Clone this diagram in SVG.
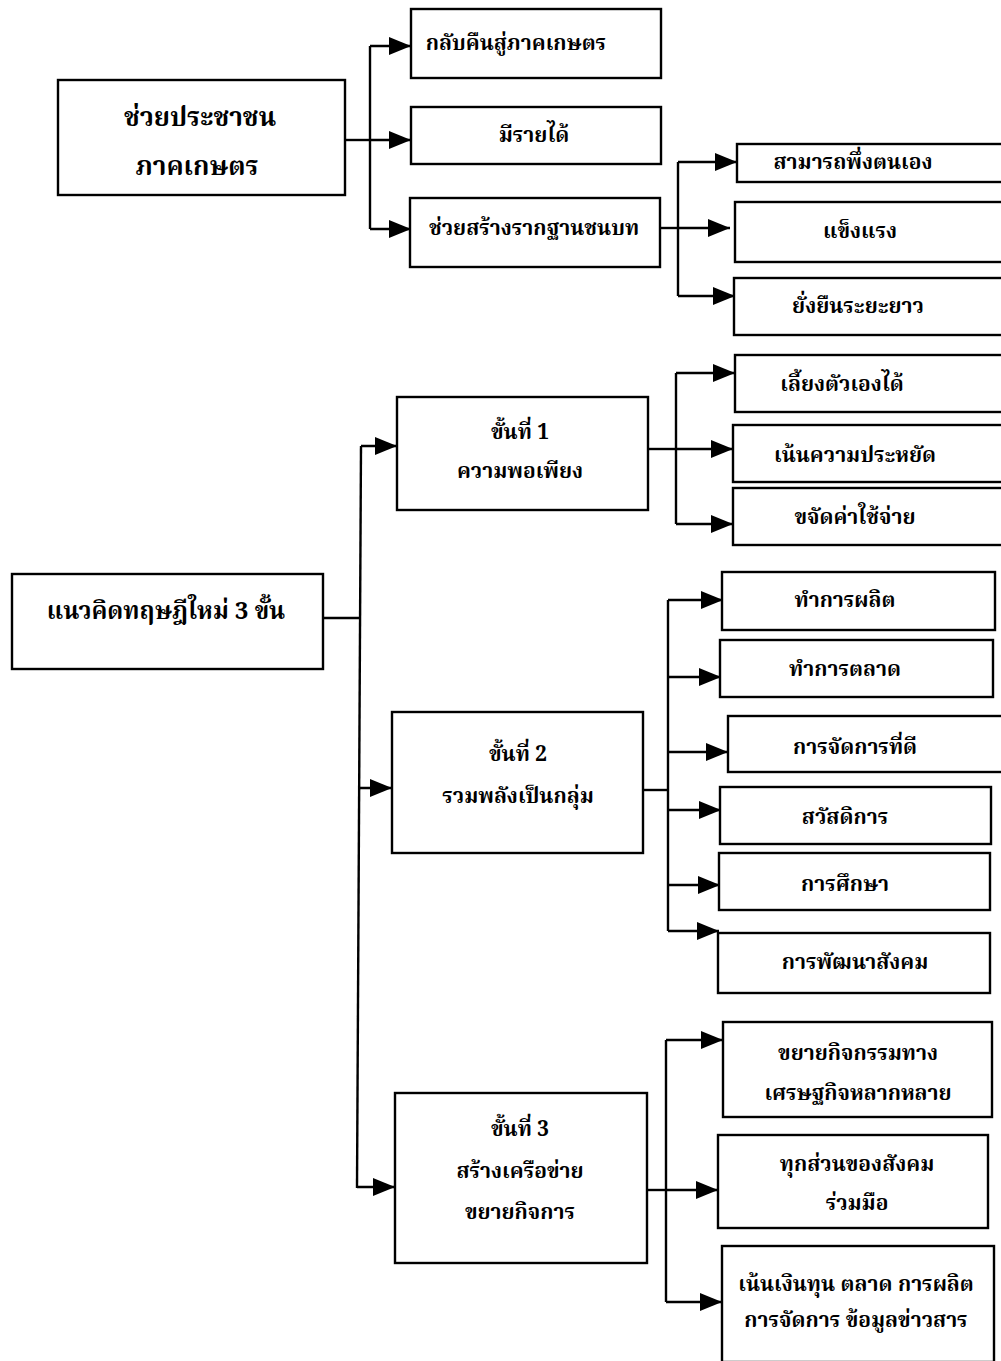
<svg xmlns="http://www.w3.org/2000/svg" width="1001" height="1361" viewBox="0 0 1001 1361">
<style>
.box{fill:#fff;stroke:#000;stroke-width:2.4}
.t{font-family:"Noto Serif Thai","Noto Sans Thai Looped","Noto Sans Thai","Garuda","Loma","Norasi","Liberation Serif",serif;font-size:21px;font-weight:bold;text-anchor:middle;dominant-baseline:central;fill:#000}
.big{font-size:26px}
.mid{font-size:24px}
.c{stroke:#000;stroke-width:2.4;fill:none}
.a{stroke:#000;stroke-width:2.4;fill:none;marker-end:url(#arr)}
</style>
<defs>
<marker id="arr" markerUnits="userSpaceOnUse" markerWidth="24" markerHeight="20" refX="22" refY="9" orient="auto">
<path d="M0,0 L22,9 L0,18 z" fill="#000"/>
</marker>
</defs>
<rect width="1001" height="1361" fill="#fff"/>

<g id="connectors">
<line class="c" x1="345" y1="140" x2="370" y2="140"/>
<line class="c" x1="370" y1="46" x2="370" y2="229"/>
<line class="a" x1="370" y1="46" x2="411" y2="46"/>
<line class="a" x1="370" y1="140" x2="411" y2="140"/>
<line class="a" x1="370" y1="229" x2="411" y2="229"/>
<line class="c" x1="660" y1="228" x2="678" y2="228"/>
<line class="c" x1="678" y1="162" x2="678" y2="296"/>
<line class="a" x1="678" y1="162" x2="737" y2="162"/>
<line class="a" x1="678" y1="228" x2="730" y2="228"/>
<line class="a" x1="678" y1="296" x2="735" y2="296"/>
<line class="c" x1="323" y1="618" x2="360" y2="618"/>
<line class="c" x1="361" y1="446" x2="357" y2="1188"/>
<line class="a" x1="361" y1="446" x2="397" y2="446"/>
<line class="a" x1="359" y1="788" x2="392" y2="788"/>
<line class="a" x1="357" y1="1187" x2="395" y2="1187"/>
<line class="c" x1="648" y1="449" x2="676" y2="449"/>
<line class="c" x1="676" y1="373" x2="676" y2="524"/>
<line class="a" x1="676" y1="373" x2="735" y2="373"/>
<line class="a" x1="676" y1="449" x2="733" y2="449"/>
<line class="a" x1="676" y1="524" x2="733" y2="524"/>
<line class="c" x1="643" y1="790" x2="668" y2="790"/>
<line class="c" x1="668" y1="600" x2="668" y2="931"/>
<line class="a" x1="668" y1="600" x2="723" y2="600"/>
<line class="a" x1="668" y1="677" x2="721" y2="677"/>
<line class="a" x1="668" y1="752" x2="728" y2="752"/>
<line class="a" x1="668" y1="810" x2="721" y2="810"/>
<line class="a" x1="668" y1="885" x2="720" y2="885"/>
<line class="a" x1="668" y1="931" x2="719" y2="931"/>
<line class="c" x1="647" y1="1190" x2="666" y2="1190"/>
<line class="c" x1="666" y1="1040" x2="666" y2="1302"/>
<line class="a" x1="666" y1="1040" x2="723" y2="1040"/>
<line class="a" x1="666" y1="1190" x2="718" y2="1190"/>
<line class="a" x1="666" y1="1302" x2="722" y2="1302"/>
</g>

<g id="n-farmers"><rect class="box" x="58" y="80" width="287" height="115"/>
<text class="t big" x="200" y="119">ช่วยประชาชน</text><text class="t big" x="197" y="168">ภาคเกษตร</text></g>
<g id="n-return"><rect class="box" x="411" y="9" width="250" height="69"/>
<text class="t" x="516" y="44">กลับคืนสู่ภาคเกษตร</text></g>
<g id="n-income"><rect class="box" x="411" y="107" width="250" height="57"/>
<text class="t" x="534" y="136">มีรายได้</text></g>
<g id="n-rural"><rect class="box" x="410" y="198" width="250" height="69"/>
<text class="t" x="534" y="229">ช่วยสร้างรากฐานชนบท</text></g>
<g id="n-self"><rect class="box" x="737" y="144" width="275" height="38"/>
<text class="t" x="853" y="163">สามารถพึ่งตนเอง</text></g>
<g id="n-strong"><rect class="box" x="735" y="202" width="277" height="60"/>
<text class="t" x="860" y="232">แข็งแรง</text></g>
<g id="n-sustain"><rect class="box" x="734" y="278" width="278" height="57"/>
<text class="t" x="858" y="307">ยั่งยืนระยะยาว</text></g>

<g id="n-main"><rect class="box" x="12" y="574" width="311" height="95"/>
<text class="t mid" x="166" y="612">แนวคิดทฤษฎีใหม่ 3 ขั้น</text></g>

<g id="n-stage1"><rect class="box" x="397" y="397" width="251" height="113"/>
<text class="t" x="520" y="433">ขั้นที่ 1</text><text class="t" x="520" y="472">ความพอเพียง</text></g>
<g id="n-feed"><rect class="box" x="735" y="355" width="277" height="57"/>
<text class="t" x="842" y="385">เลี้ยงตัวเองได้</text></g>
<g id="n-save"><rect class="box" x="733" y="425" width="279" height="57"/>
<text class="t" x="855" y="456">เน้นความประหยัด</text></g>
<g id="n-cost"><rect class="box" x="733" y="488" width="279" height="57"/>
<text class="t" x="855" y="518">ขจัดค่าใช้จ่าย</text></g>

<g id="n-stage2"><rect class="box" x="392" y="712" width="251" height="141"/>
<text class="t" x="518" y="755">ขั้นที่ 2</text><text class="t" x="518" y="797">รวมพลังเป็นกลุ่ม</text></g>
<g id="n-produce"><rect class="box" x="722" y="572" width="273" height="58"/>
<text class="t" x="845" y="601">ทำการผลิต</text></g>
<g id="n-market"><rect class="box" x="720" y="640" width="273" height="57"/>
<text class="t" x="845" y="670">ทำการตลาด</text></g>
<g id="n-manage"><rect class="box" x="728" y="716" width="275" height="56"/>
<text class="t" x="855" y="748">การจัดการที่ดี</text></g>
<g id="n-welfare"><rect class="box" x="720" y="787" width="271" height="57"/>
<text class="t" x="845" y="818">สวัสดิการ</text></g>
<g id="n-edu"><rect class="box" x="719" y="853" width="271" height="57"/>
<text class="t" x="845" y="885">การศึกษา</text></g>
<g id="n-social"><rect class="box" x="718" y="933" width="272" height="60"/>
<text class="t" x="855" y="963">การพัฒนาสังคม</text></g>

<g id="n-stage3"><rect class="box" x="395" y="1093" width="252" height="170"/>
<text class="t" x="520" y="1130">ขั้นที่ 3</text><text class="t" x="520" y="1172">สร้างเครือข่าย</text><text class="t" x="520" y="1213">ขยายกิจการ</text></g>
<g id="n-econ"><rect class="box" x="723" y="1022" width="269" height="95"/>
<text class="t" x="858" y="1054">ขยายกิจกรรมทาง</text><text class="t" x="858" y="1094">เศรษฐกิจหลากหลาย</text></g>
<g id="n-coop"><rect class="box" x="718" y="1135" width="270" height="93"/>
<text class="t" x="857" y="1165">ทุกส่วนของสังคม</text><text class="t" x="857" y="1204">ร่วมมือ</text></g>
<g id="n-capital"><rect class="box" x="722" y="1246" width="272" height="116"/>
<text class="t" x="856" y="1285">เน้นเงินทุน ตลาด การผลิต</text><text class="t" x="856" y="1321">การจัดการ ข้อมูลข่าวสาร</text></g>
</svg>
